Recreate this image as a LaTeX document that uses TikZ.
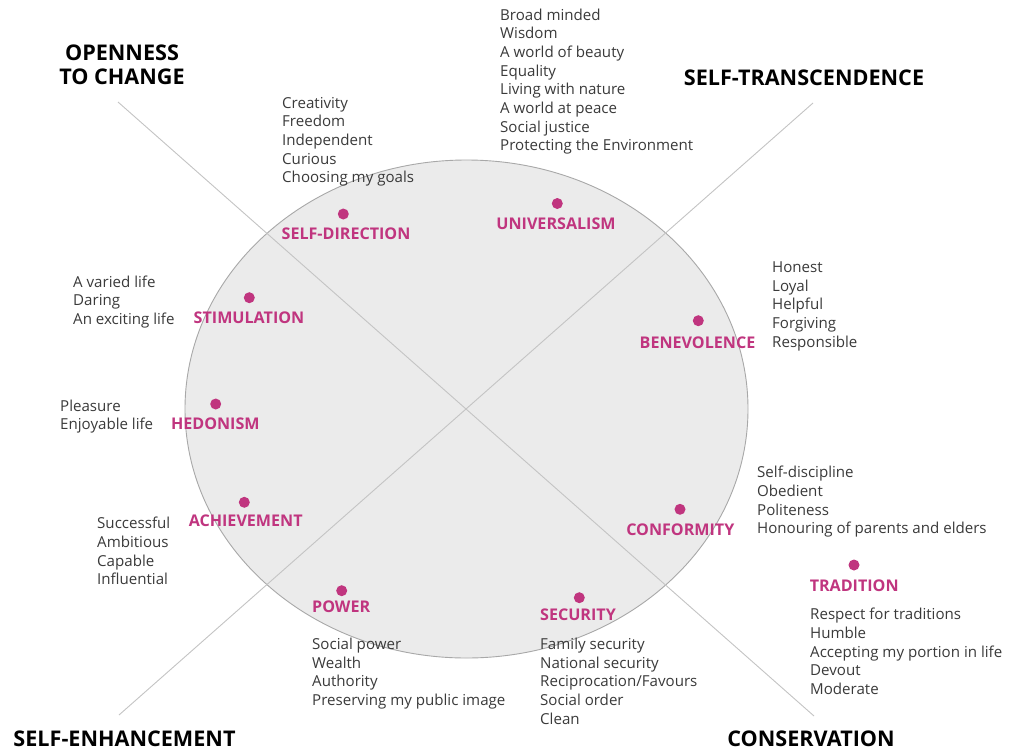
\documentclass[tikz,border=0pt]{standalone}
\usepackage{fontspec}
\setmainfont{Open Sans}
\usetikzlibrary{shapes.geometric}
\definecolor{mag}{HTML}{C0357F}
\definecolor{txt}{HTML}{3A3A3A}
\definecolor{circfill}{HTML}{EBEBEB}
\definecolor{circline}{HTML}{A8A8A8}
\definecolor{axisline}{HTML}{C4C4C4}
\tikzset{
  vals/.style={anchor=north west, inner sep=0pt, align=left, text=txt,
    font=\fontsize{15.1}{18.65}\selectfont},
  valname/.style={anchor=base, inner sep=0pt, text=mag,
    font=\fontsize{16.1}{18}\selectfont\bfseries},
  corner/.style={anchor=base, inner sep=0pt, text=black, align=center,
    font=\fontsize{21.6}{23.6}\selectfont\bfseries},
  dot/.style={circle, fill=mag, inner sep=0pt, minimum size=11pt},
  axisstyle/.style={draw=axisline, line width=0.9pt},
}
\begin{document}
\begin{tikzpicture}[x=1pt,y=-1pt]
\useasboundingbox (0,0) rectangle (1010,753);
\fill[white] (0,0) rectangle (1010,753);
% circle
\node[ellipse, draw=circline, fill=circfill, line width=0.9pt, inner sep=0pt,
  minimum width=563pt, minimum height=498pt] (circ) at (466.5,409) {};
% axes
\coordinate (otc) at (118,102);
\coordinate (cons) at (814,716);
\coordinate (st) at (813,103);
\coordinate (senh) at (119,715);
\draw[axisstyle] (otc) -- (cons);
\draw[axisstyle] (st) -- (senh);
% corner labels
\node[corner] (lOTC) at (122,84.3) {OPENNESS\\TO CHANGE};
\node[corner] (lST) at (804,85) {SELF-TRANSCENDENCE};
\node[corner] (lSE) at (124.5,746.7) {SELF-ENHANCEMENT};
\node[corner] (lCO) at (811,746.7) {CONSERVATION};
% dots
\node[dot] (dSD) at (343.3,214) {};
\node[dot] (dUN) at (557.3,203.5) {};
\node[dot] (dST) at (249.3,297.7) {};
\node[dot] (dHE) at (215.7,404) {};
\node[dot] (dAC) at (244.3,502.3) {};
\node[dot] (dPO) at (341.7,590.7) {};
\node[dot] (dSE) at (579.3,597.7) {};
\node[dot] (dBE) at (698.3,320.7) {};
\node[dot] (dCO) at (680,509.3) {};
\node[dot] (dTR) at (854,565) {};
% value names
\node[valname] (nSD) at (346,239) {SELF-DIRECTION};
\node[valname] (nUN) at (556,229) {UNIVERSALISM};
\node[valname] (nST) at (249,323.3) {STIMULATION};
\node[valname] (nHE) at (215.3,429.3) {HEDONISM};
\node[valname] (nAC) at (245.7,526.7) {ACHIEVEMENT};
\node[valname] (nPO) at (341.2,612.7) {POWER};
\node[valname] (nSE) at (578,620) {SECURITY};
\node[valname] (nBE) at (697.5,348.3) {BENEVOLENCE};
\node[valname] (nCO) at (680.3,535) {CONFORMITY};
\node[valname] (nTR) at (854.2,591.7) {TRADITION};
% value lists
\node[vals] (vUN) at (500,8.5) {Broad minded\\Wisdom\\A world of beauty\\Equality\\Living with nature\\A world at peace\\Social justice\\Protecting the Environment};
\node[vals] (vSD) at (282,97) {Creativity\\Freedom\\Independent\\Curious\\Choosing my goals};
\node[vals] (vST) at (73,275.5) {A varied life\\Daring\\An exciting life};
\node[vals] (vHE) at (60,399.5) {Pleasure\\Enjoyable life};
\node[vals] (vAC) at (97,517) {Successful\\Ambitious\\Capable\\Influential};
\node[vals] (vPO) at (312,638) {Social power\\Wealth\\Authority\\Preserving my public image};
\node[vals] (vSE) at (540,638) {Family security\\National security\\Reciprocation/Favours\\Social order\\Clean};
\node[vals] (vBE) at (772,261.5) {Honest\\Loyal\\Helpful\\Forgiving\\Responsible};
\node[vals] (vCO) at (757,466) {Self-discipline\\Obedient\\Politeness\\Honouring of parents and elders};
\node[vals] (vTR) at (810,608) {Respect for traditions\\Humble\\Accepting my portion in life\\Devout\\Moderate};
\end{tikzpicture}
\end{document}
